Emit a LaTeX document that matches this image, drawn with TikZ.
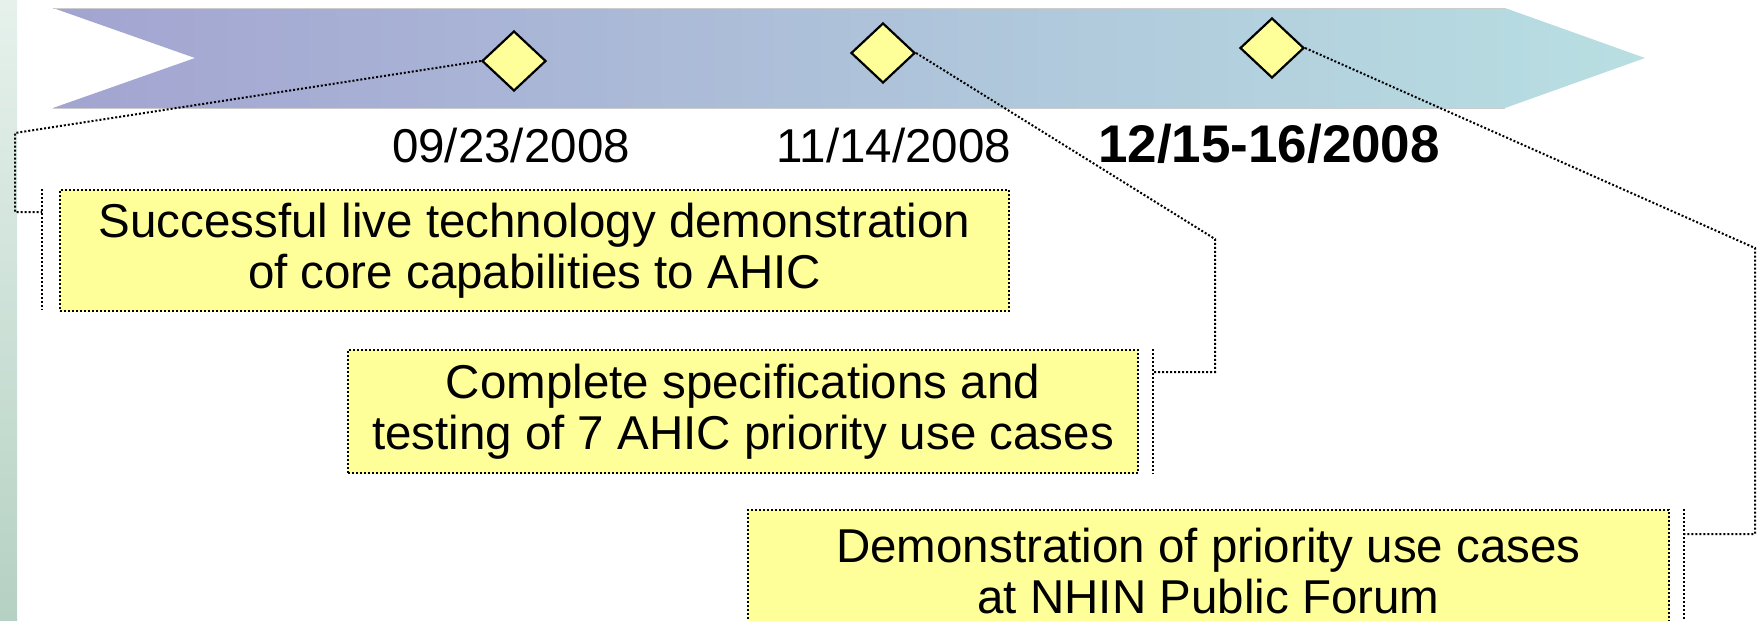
\documentclass[tikz,border=0pt]{standalone}
\usepackage{fontspec}
\setmainfont{Liberation Sans}
\usepackage{tikz}
\usetikzlibrary{shapes.geometric}
\usetikzlibrary{calc}
\definecolor{noteyellow}{HTML}{FFFF99}
\definecolor{bandleft}{HTML}{A3A4D1}
\definecolor{bandright}{HTML}{B8DFE2}
\definecolor{stripA}{HTML}{E6F1EC}
\definecolor{stripB}{HTML}{B5D1C3}
\tikzset{
	MK/.style={diamond,draw,line width=2.2pt,fill=noteyellow,inner sep=0pt,minimum width=64pt,minimum height=60pt}
}
\tikzset{
	NT/.style={rectangle,draw,line width=2pt,dash pattern=on 2pt off 2pt,fill=noteyellow,align=center,inner sep=0pt,font=\fontsize{47.5}{51}\selectfont}
}
\tikzset{
	LK/.style={line width=2pt,dash pattern=on 2pt off 2pt}
}
\tikzset{
	DT/.style={anchor=base,inner sep=0pt,font=\fontsize{47.5}{51}\selectfont}
}
\begin{document}
\begin{tikzpicture}[x=1pt,y=-1pt]
	\useasboundingbox (0,0) rectangle (1762,621);
	\clip (0,0) rectangle (1762,621);
	\shade[top color=stripA,bottom color=stripB] (0,0) rectangle (17,621);
	\shade[left color=bandleft,right color=bandright] (53,8) -- (1505,8) -- (1645,58) -- (1505,108) -- (53,108) -- (195,58) -- cycle;
	\draw[gray!40,line width=1pt] (53,8) -- (1505,8);
	\draw[gray!40,line width=1pt] (53,108) -- (1505,108);
	%milestones
	\foreach \i/\x/\y in {1/514/61,2/883/53,3/1272/48}{
		\node[MK] (D\i) at (\x,\y) {};
	}
	\node[DT] (T1) at (511,162) {09/23/2008};
	\node[DT] (T2) at (894,162) {11/14/2008};
	\node[DT,font=\fontsize{53}{56}\selectfont\bfseries] (T3) at (1269,162) {12/15-16/2008};
	%notes
	\node[NT,minimum width=949pt,minimum height=121pt] (B1) at (534.5,250.5) {Successful live technology demonstration\\of core capabilities to AHIC};
	\node[NT,minimum width=790pt,minimum height=123pt] (B2) at (743,411.5) {Complete specifications and\\testing of 7 AHIC priority use cases};
	\node[NT,minimum width=921pt,minimum height=123pt] (B3) at (1208.5,571.5) {Demonstration of priority use cases\\at NHIN Public Forum};
	\draw[LK] ($(B1.north west)+(-17,0)$) -- ($(B1.south west)+(-17,-2)$);
	\draw[LK] ($(B2.north east)+(14,0)$) -- ($(B2.south east)+(14,0)$);
	\draw[LK] ($(B3.north east)+(14,0)$) -- ($(B3.south east)+(14,0)$);
	\coordinate (A1) at ($(B1.north west)+(-17,23)$);
	\coordinate (A2) at ($(B2.north east)+(14,23)$);
	\coordinate (A3) at ($(B3.north east)+(14,25)$);
	\coordinate (E1) at (15,133);
	\coordinate (E2) at (1215,239);
	\coordinate (E3) at (1755,248);
	\draw[LK] (D1.west) -- (E1) |- (A1);
	\draw[LK] (D2.east) -- (E2) |- (A2);
	\draw[LK] (D3.east) -- (E3) |- (A3);
\end{tikzpicture}
\end{document}
